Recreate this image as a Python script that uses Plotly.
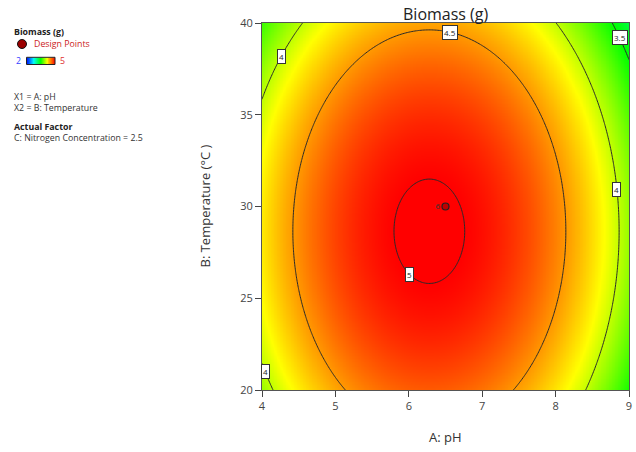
import numpy as np
import plotly.graph_objects as go

# Fitted response surface for Biomass (g): peak value, optimum (pH, temperature)
# and curvature of each factor
peak_biomass = 5.036
optimum = [6.28, 28.65]          # A: pH, B: Temperature
curvature = [0.155, 0.00445]     # per unit^2 of A and B

ph_range = [4, 9]
temp_range = [20, 40]
levels = [3.5, 4.0, 4.5, 5.0]

# Design point (centre point, 6 replicates)
design_ph = [6.5]
design_temp = [30]
design_reps = ["6"]

# Contour label placement: (level, temperature, side of optimum)
label_spots = [(4.5, 39.5, 1), (3.5, 39.2, 1), (4.0, 38.2, -1),
               (4.0, 30.95, 1), (5.0, 26.3, -1), (4.0, 21.0, -1)]

x_ticks = [4, 5, 6, 7, 8, 9]
y_ticks = [20, 25, 30, 35, 40]


def biomass(ph, temp):
    return (peak_biomass - curvature[0] * (ph - optimum[0]) ** 2
            - curvature[1] * (temp - optimum[1]) ** 2)


def ph_on_level(level, temp, side):
    rest = peak_biomass - level - curvature[1] * (temp - optimum[1]) ** 2
    return optimum[0] + side * np.sqrt(max(rest, 0) / curvature[0])


ph = np.linspace(ph_range[0], ph_range[1], 241)
temp = np.linspace(temp_range[0], temp_range[1], 241)
PH, TEMP = np.meshgrid(ph, temp)
Z = biomass(PH, TEMP)

scale = [[0.0, "#0000ff"], [0.25, "#00ffff"], [0.5, "#00ff00"],
         [0.72, "#ffff00"], [1.0, "#ff0000"]]

W, H = 636, 452
px0, px1, py0, py1 = 262, 629, 23, 390   # plot frame in pixels


def fx(x):
    return x / W


def fy(y):
    return 1 - y / H


fig = go.Figure()
fig.add_trace(go.Contour(
    x=ph, y=temp, z=Z, zmin=2, zmax=5, colorscale=scale, showscale=False,
    contours=dict(coloring="heatmap", start=levels[0], end=levels[-1],
                  size=0.5, showlabels=False),
    line=dict(color="#2a2a2a", width=1), hoverinfo="skip"))

fig.add_trace(go.Scatter(
    x=design_ph, y=design_temp, mode="markers+text", text=design_reps,
    textposition="middle left", textfont=dict(size=8, color="#333"),
    marker=dict(size=7, color="#c00000", line=dict(color="#222", width=1.2)),
    showlegend=False))

# small colour key in the side panel
key_vals = np.linspace(2, 5, 60)
fig.add_trace(go.Heatmap(
    z=[key_vals], x=key_vals, y=[0], colorscale=scale, zmin=2, zmax=5,
    showscale=False, xaxis="x2", yaxis="y2", hoverinfo="skip"))

annotations = []
for level, t, side in label_spots:
    annotations.append(dict(
        x=ph_on_level(level, t, side), y=t, xref="x", yref="y",
        text=f"{level:g}", showarrow=False, font=dict(size=8, color="#222"),
        bgcolor="white", bordercolor="#333", borderwidth=1, borderpad=1))

font = "Open Sans, Noto Sans, sans-serif"
side_text = [
    ("<b>Biomass (g)</b>", 13, 32, "#222"),
    ("Design Points", 33, 44, "#cc2222"),
    ("2", 15, 61, "#3344ff"),
    ("5", 59, 61, "#e03030"),
    ("X1 = A: pH", 13, 97, "#333"),
    ("X2 = B: Temperature", 13, 108, "#333"),
    ("<b>Actual Factor</b>", 13, 127, "#222"),
    ("C: Nitrogen Concentration = 2.5", 13, 138, "#333"),
]
for txt, x, y, c in side_text:
    annotations.append(dict(x=fx(x), y=fy(y), xref="paper", yref="paper",
                            text=txt, showarrow=False, xanchor="left",
                            yanchor="middle", borderpad=0,
                            font=dict(size=8.8, color=c)))

annotations += [
    dict(x=fx((px0 + px1) / 2), y=fy(14), xref="paper", yref="paper",
         xanchor="center", yanchor="middle",
         text="Biomass (g)", showarrow=False, font=dict(size=16, color="#222")),
    dict(x=fx((px0 + px1) / 2), y=fy(437), xref="paper", yref="paper",
         xanchor="center", yanchor="middle",
         text="A: pH", showarrow=False, font=dict(size=13, color="#333")),
    dict(x=fx(205), y=fy((py0 + py1) / 2), xref="paper", yref="paper",
         xanchor="center", yanchor="middle",
         text="B: Temperature (°C )", showarrow=False, textangle=-90,
         font=dict(size=13, color="#333")),
]

shapes = [
    dict(type="circle", xref="paper", yref="paper",
         x0=fx(17.5), x1=fx(26.5), y0=fy(48.5), y1=fy(39.5),
         fillcolor="#9b0000", line=dict(color="#111", width=1)),
    dict(type="rect", xref="paper", yref="paper",
         x0=fx(26.5), x1=fx(55), y0=fy(64.5), y1=fy(57.3),
         line=dict(color="#222", width=1)),
]

fig.update_layout(
    width=W, height=H, margin=dict(l=0, r=0, t=0, b=0, autoexpand=False),
    paper_bgcolor="white", plot_bgcolor="white",
    font=dict(family=font, color="#333"),
    showlegend=False, annotations=annotations, shapes=shapes,
    xaxis=dict(domain=[fx(px0), fx(px1)], range=ph_range, tickvals=x_ticks,
               ticks="outside", ticklen=6, tickcolor="#444", automargin=False,
               showline=True, linecolor="#555", mirror=True, showgrid=False,
               zeroline=False, tickfont=dict(size=11, color="#444")),
    yaxis=dict(domain=[fy(py1), fy(py0)], range=temp_range, tickvals=y_ticks,
               ticks="outside", ticklen=6, tickcolor="#444", automargin=False,
               showline=True, linecolor="#555", mirror=True, showgrid=False,
               zeroline=False, tickfont=dict(size=11, color="#444")),
    xaxis2=dict(domain=[fx(26.5), fx(55)], anchor="y2", visible=False,
                range=[2, 5], automargin=False),
    yaxis2=dict(domain=[fy(64.5), fy(57.3)], anchor="x2", visible=False,
                range=[-0.5, 0.5], automargin=False),
)

fig.write_html("out.html")
